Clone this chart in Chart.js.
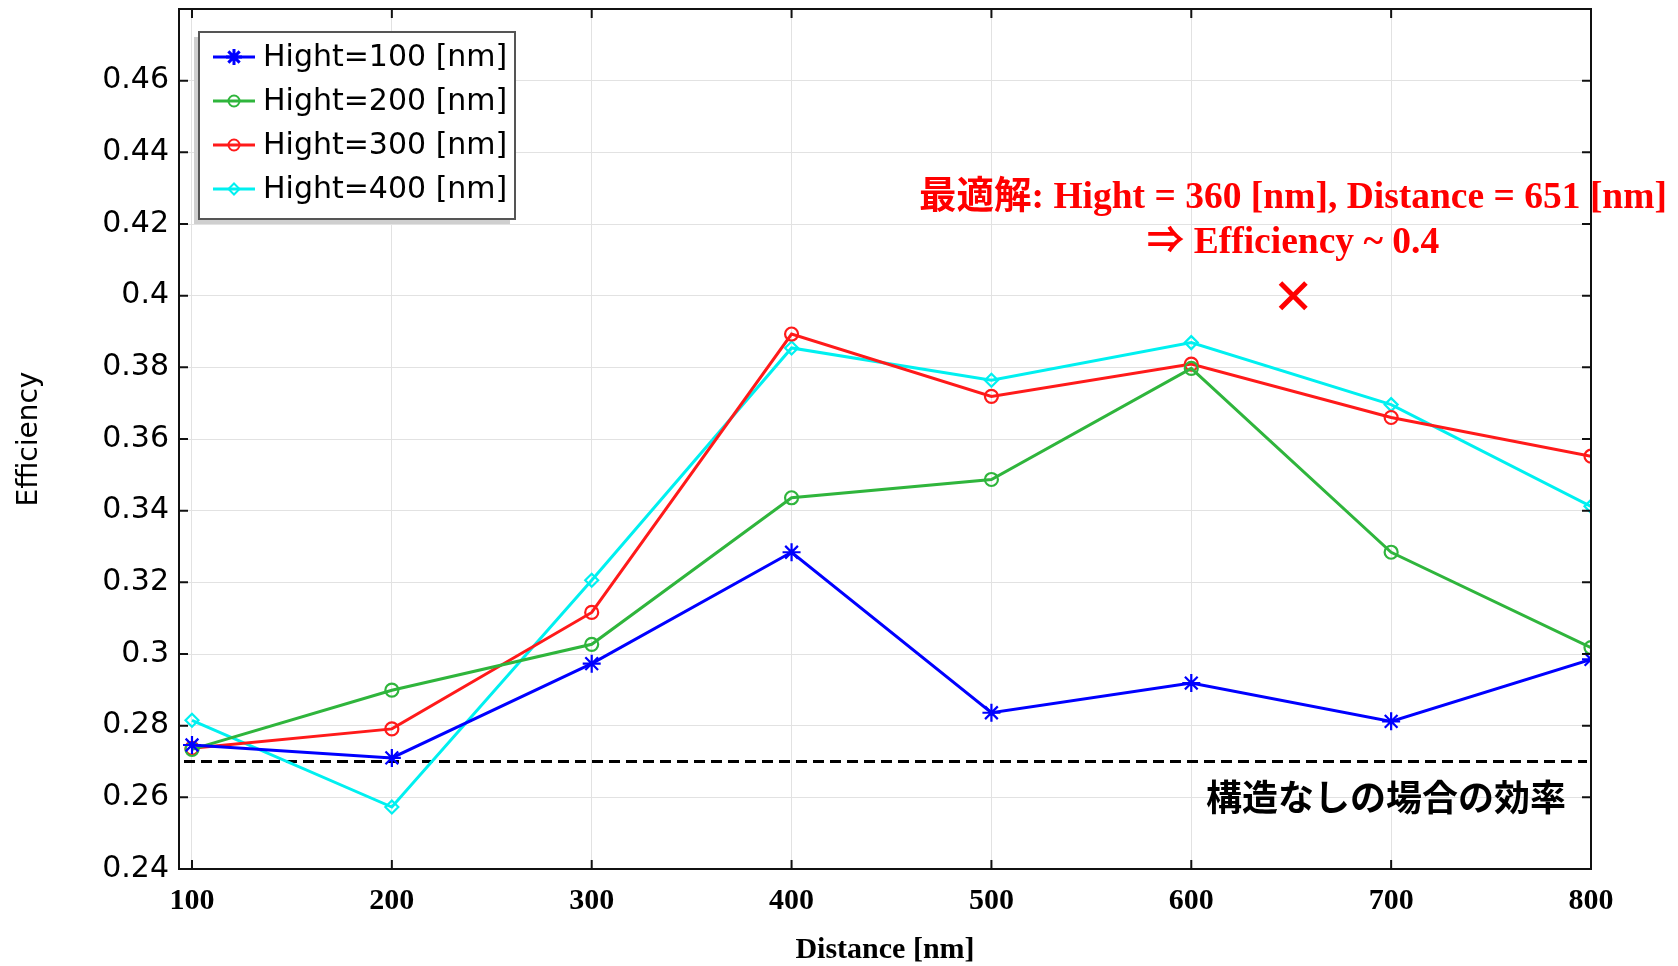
<!DOCTYPE html>
<html>
<head>
<meta charset="utf-8">
<script src="https://cdn.jsdelivr.net/npm/chart.js@4.4.0/dist/chart.umd.min.js"></script>
<style>
  html, body { margin: 0; background: #fff; }
  #wrap { width: 1678px; height: 966px; }
</style>
</head>
<body>
<div id="wrap"><canvas id="chart" width="1678" height="966"></canvas></div>
<script>
// ── Data ─────────────────────────────────────────────────────────────────────
const distances = [100, 200, 300, 400, 500, 600, 700, 800];
const hight100  = [0.2746, 0.2710, 0.2973, 0.3284, 0.2836, 0.2919, 0.2812, 0.2985];
const hight200  = [0.2734, 0.2899, 0.3027, 0.3436, 0.3487, 0.3797, 0.3284, 0.3018];
const hight300  = [0.2737, 0.2791, 0.3116, 0.3893, 0.3719, 0.3809, 0.3660, 0.3552];
const hight400  = [0.2815, 0.2573, 0.3206, 0.3854, 0.3764, 0.3869, 0.3696, 0.3412];

const seriesLabels = ['Hight=100 [nm]', 'Hight=200 [nm]', 'Hight=300 [nm]', 'Hight=400 [nm]'];

const xTicks = [100, 200, 300, 400, 500, 600, 700, 800];
const yTicks = [0.24, 0.26, 0.28, 0.30, 0.32, 0.34, 0.36, 0.38, 0.40, 0.42, 0.44, 0.46];

const baselineX     = [96, 798];
const baselineValue = 0.27;
const optimum       = { x: 651, y: 0.40 };

const noteLine1 = '最適解: Hight = 360 [nm], Distance = 651 [nm]';
const noteLine2 = '⇒ Efficiency ~ 0.4';
const baseNote  = '構造なしの場合の効率';

// ── Helpers ──────────────────────────────────────────────────────────────────
const pts = ys => distances.map((x, i) => ({ x, y: ys[i] }));

function series(label, ys, color, pointStyle, radius) {
  return {
    label, data: pts(ys), borderColor: color, backgroundColor: color,
    borderWidth: 3, pointStyle, pointRadius: radius, pointBorderWidth: 2.2,
    pointBackgroundColor: 'rgba(0,0,0,0)', pointBorderColor: color, tension: 0,
  };
}

const datasets = [
  series(seriesLabels[0], hight100, '#0000ff', 'star',    9),
  series(seriesLabels[1], hight200, '#2fb53c', 'circle',  6.5),
  series(seriesLabels[2], hight300, '#ff1a1a', 'circle',  6.5),
  series(seriesLabels[3], hight400, '#00f0f0', 'rectRot', 6.5),
  {
    label: 'baseline', data: baselineX.map(x => ({ x, y: baselineValue })),
    borderColor: '#000', borderWidth: 3, borderDash: [11, 6], pointRadius: 0,
  },
  {
    label: 'optimum', data: [optimum], showLine: false,
    pointStyle: 'crossRot', pointRadius: 18, pointBorderWidth: 5,
    pointBorderColor: '#ff0000', borderColor: '#ff0000',
  },
];

// ── Frame, inward ticks, legend and notes ────────────────────────────────────
const decorations = {
  id: 'decorations',
  afterDatasetsDraw(chart) {
    const { ctx, chartArea: a, scales: { x, y } } = chart;
    ctx.save();

    // frame + inward ticks
    ctx.strokeStyle = '#111';
    ctx.lineWidth = 2;
    ctx.strokeRect(a.left, a.top, a.right - a.left, a.bottom - a.top);
    ctx.beginPath();
    xTicks.forEach(v => {
      const px = x.getPixelForValue(v);
      ctx.moveTo(px, a.top);    ctx.lineTo(px, a.top + 9);
      ctx.moveTo(px, a.bottom); ctx.lineTo(px, a.bottom - 9);
    });
    yTicks.forEach(v => {
      const py = y.getPixelForValue(v);
      ctx.moveTo(a.left, py);  ctx.lineTo(a.left + 9, py);
      ctx.moveTo(a.right, py); ctx.lineTo(a.right - 9, py);
    });
    ctx.stroke();

    // legend box
    const lx = 199, ly = 32, lw = 316, lh = 187;
    ctx.fillStyle = '#cfcfcf';
    ctx.fillRect(lx - 5, ly + 5, lw, lh);
    ctx.fillStyle = '#fff';
    ctx.fillRect(lx, ly, lw, lh);
    ctx.strokeStyle = '#555';
    ctx.lineWidth = 2;
    ctx.strokeRect(lx, ly, lw, lh);

    ctx.textBaseline = 'middle';
    ctx.textAlign = 'left';
    datasets.slice(0, 4).forEach((ds, i) => {
      const cy = 57 + i * 44;
      ctx.strokeStyle = ds.borderColor;
      ctx.lineWidth = 3;
      ctx.setLineDash([]);
      ctx.beginPath();
      ctx.moveTo(213, cy); ctx.lineTo(255, cy);
      ctx.stroke();
      ctx.lineWidth = ds.pointStyle === 'star' ? 3 : 2;
      ctx.fillStyle = 'rgba(0,0,0,0)';
      Chart.helpers.drawPoint(ctx, {
        pointStyle: ds.pointStyle, radius: ds.pointRadius - 1, rotation: 0, borderWidth: ctx.lineWidth,
      }, 234, cy);
      ctx.fillStyle = '#000';
      ctx.font = '30px "DejaVu Sans"';
      ctx.fillText(ds.label, 263, cy + 1);
    });

    // optimum note
    ctx.fillStyle = '#ff0000';
    ctx.textAlign = 'center';
    ctx.textBaseline = 'alphabetic';
    ctx.font = 'bold 37.5px "Liberation Serif", "Noto Sans CJK JP", serif';
    ctx.fillText(noteLine1, 1293, 208);
    ctx.fillText(noteLine2, 1293, 253);

    // baseline note
    ctx.fillStyle = '#000';
    ctx.textAlign = 'left';
    ctx.font = 'bold 36px "Noto Sans CJK JP", sans-serif';
    ctx.fillText(baseNote, 1206, 811);

    ctx.restore();
  },
};

// ── Chart ────────────────────────────────────────────────────────────────────
new Chart(document.getElementById('chart').getContext('2d'), {
  type: 'line',
  data: { datasets },
  options: {
    responsive: false,
    animation: false,
    layout: { autoPadding: false, padding: { top: 9, right: 87, left: 0, bottom: 0 } },
    plugins: { legend: { display: false }, tooltip: { enabled: false } },
    scales: {
      x: {
        type: 'linear', min: 93.5, max: 800,
        afterBuildTicks: s => { s.ticks = xTicks.map(value => ({ value })); },
        afterFit: s => { s.height = 97; s.paddingLeft = 0; s.paddingRight = 0; },
        grid: { color: '#e2e2e2', lineWidth: 1, drawTicks: false },
        border: { display: false },
        ticks: {
          padding: 14, color: '#000', maxRotation: 0,
          font: { family: '"Liberation Serif", serif', weight: 'bold', size: 30 },
        },
        title: {
          display: true, text: 'Distance [nm]', color: '#000', padding: { top: 0, bottom: 0 },
          font: { family: '"Liberation Serif", serif', weight: 'bold', size: 30, lineHeight: 1.05 },
        },
      },
      y: {
        type: 'linear', min: 0.24, max: 0.48,
        afterBuildTicks: s => { s.ticks = yTicks.map(value => ({ value })); },
        afterFit: s => { s.width = 179; s.paddingTop = 0; s.paddingBottom = 0; },
        grid: { color: '#e2e2e2', lineWidth: 1, drawTicks: false },
        border: { display: false },
        ticks: {
          padding: 10, color: '#000',
          font: { family: '"DejaVu Sans", sans-serif', size: 30 },
          callback: v => String(+v.toFixed(2)),
        },
        title: {
          display: true, text: 'Efficiency', color: '#000', padding: { top: 13, bottom: 0 },
          font: { family: '"DejaVu Sans", sans-serif', size: 28 },
        },
      },
    },
  },
  plugins: [decorations],
});
</script>
</body>
</html>
